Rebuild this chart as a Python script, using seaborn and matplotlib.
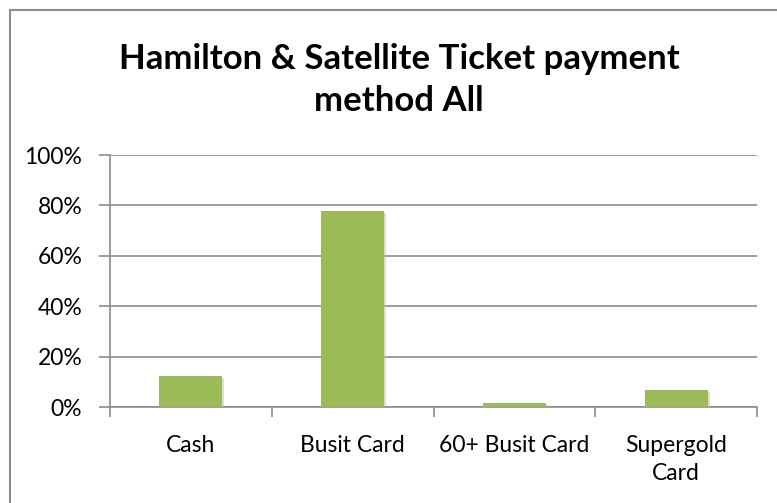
import matplotlib
matplotlib.use("Agg")
import matplotlib.pyplot as plt
import matplotlib.patheffects as pe
from matplotlib.patches import Rectangle
import seaborn as sns
import pandas as pd

categories = ["Cash", "Busit Card", "60+ Busit Card", "Supergold\nCard"]
values = [12.2, 77.8, 1.5, 6.9]
yticks = [0, 20, 40, 60, 80, 100]
ytick_labels = ["0%", "20%", "40%", "60%", "80%", "100%"]
title = "Hamilton & Satellite Ticket payment\nmethod All"

sns.set_theme(style="white")
plt.rcParams["font.family"] = ["Lato", "DejaVu Sans"]

df = pd.DataFrame({"cat": categories, "val": values})

fig = plt.figure(figsize=(7.77, 5.03), dpi=100)
ax = fig.add_axes([110/777, 1-407/503, (757-110)/777, (407-155)/503])

sns.barplot(data=df, x="cat", y="val", color="#9BBB59", width=0.39, ax=ax,
            saturation=1, edgecolor="none")
for p in ax.patches:
    p.set_path_effects([pe.SimplePatchShadow(offset=(1.5, -1.5), shadow_rgbFace="#bbbbbb", alpha=0.5), pe.Normal()])
    p.set_zorder(3)

ax.set_ylim(0, 100)
ax.set_xlim(-0.5, len(categories) - 0.5)
ax.set_yticks(yticks)
ax.set_yticklabels(ytick_labels, fontsize=16.5, color="#000000")
ax.yaxis.grid(True, color="#8c8c8c", linewidth=1.2)
ax.set_axisbelow(True)
ax.set_xlabel("")
ax.set_ylabel("")
ax.set_xticks(range(len(categories)))
ax.set_xticklabels(categories, fontsize=16.5, color="#000000", linespacing=1.45)
ax.tick_params(axis="x", which="major", length=0, pad=20)
ax.set_xticks([i - 0.5 for i in range(len(categories) + 1)], minor=True)
ax.tick_params(axis="x", which="minor", length=7, width=1.2, color="#8c8c8c", direction="out", bottom=True)
ax.tick_params(axis="y", which="major", length=8, width=1.2, color="#8c8c8c", direction="out", left=True, pad=12)

for s in ["top", "right"]:
    ax.spines[s].set_visible(False)
for s in ["left", "bottom"]:
    ax.spines[s].set_color("#8c8c8c")
    ax.spines[s].set_linewidth(1.2)

fig.text(399/777, 1-80/503, title, ha="center", va="center", fontsize=25,
         fontweight="bold", linespacing=1.42, color="#000000")

fig.patches.append(Rectangle((10/777, -0.1), 1.2, 1 - 10/503 + 0.1, transform=fig.transFigure,
                             fill=False, edgecolor="#8c8c8c", linewidth=1.5))

fig.savefig("out.png", dpi=100)
